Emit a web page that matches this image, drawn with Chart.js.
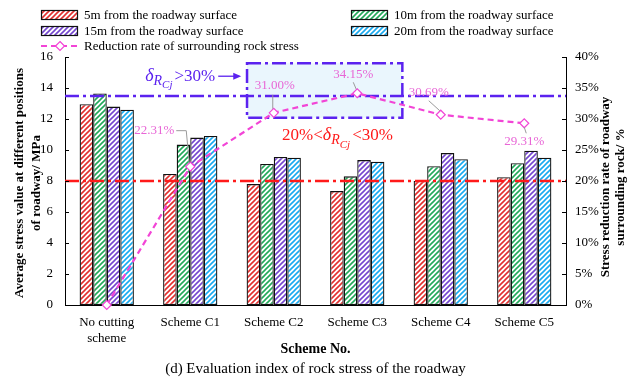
<!DOCTYPE html>
<html>
<head>
<meta charset="utf-8">
<script src="https://cdn.jsdelivr.net/npm/chart.js@4.4.1/dist/chart.umd.min.js"></script>
<style>
  html, body { margin: 0; padding: 0; background: #fff; }
  #wrap { width: 636px; height: 377px; }
</style>
</head>
<body>
<div id="wrap"><canvas id="chart"></canvas></div>
<script>
// categories and values
const schemes = [['No cutting', 'scheme'], 'Scheme C1', 'Scheme C2', 'Scheme C3', 'Scheme C4', 'Scheme C5'];
const stress5m = [12.95, 8.45, 7.8, 7.35, 8.0, 8.25];
const stress10m = [13.65, 10.35, 9.1, 8.3, 8.95, 9.15];
const stress15m = [12.8, 10.8, 9.55, 9.35, 9.8, 9.95];
const stress20m = [12.6, 10.9, 9.5, 9.25, 9.4, 9.5];
const reductionRate = [0, 22.31, 31.00, 34.15, 30.69, 29.31];
const rateLabels = ['', '22.31%', '31.00%', '34.15%', '30.69%', '29.31%'];

const seriesNames = [
  '5m from the roadway surface',
  '10m from the roadway surface',
  '15m from the roadway surface',
  '20m from the roadway surface',
  'Reduction rate of surrounding rock stress'
];

// evaluation thresholds (right axis, %)
const upperCriterion = 33.7;
const lowerCriterion = 20;
const zoneX = [1.68, 3.54];   // highlighted zone, in category units
const zoneY = [30.2, 39.0];   // highlighted zone, in %

const FONT = "'Liberation Serif', 'Times New Roman', serif";
const colors = ['#e2302f', '#22a95a', '#7446cf', '#18aaf0'];
const lineColor = '#f245d6';
const blue = '#5b22ef';

// hatched fill like the original figure
function hatch(color) {
  const s = 5;
  const tile = document.createElement('canvas');
  tile.width = s; tile.height = s;
  const g = tile.getContext('2d');
  g.fillStyle = '#fff';
  g.fillRect(0, 0, s, s);
  g.strokeStyle = color;
  g.lineWidth = 1.6;
  g.beginPath();
  g.moveTo(0, s); g.lineTo(s, 0);
  g.moveTo(-1, 1); g.lineTo(1, -1);
  g.moveTo(s - 1, s + 1); g.lineTo(s + 1, s - 1);
  g.stroke();
  return document.createElement('canvas').getContext('2d').createPattern(tile, 'repeat');
}
const patterns = colors.map(hatch);

// label offsets for the rate values: text centre and leader line end, relative to the point
const labelOffsets = [null,
  { tx: -36, ty: -36, lx: -4, ly: -36, lx2: 10 },
  { tx: 1, ty: -27, lx: -1, ly: -18 },
  { tx: -4, ty: -19, lx: -4, ly: -11 },
  { tx: -12, ty: -22, lx: -12, ly: -14 },
  { tx: 0, ty: 18, lx: 2, ly: 10 }
];

function dashDot(ctx) { ctx.setLineDash([14, 4, 3, 4]); }

// draws the text with an italic δ_RCj inside it
function deltaText(ctx, x, y, before, after, color) {
  ctx.save();
  ctx.fillStyle = color;
  ctx.textBaseline = 'middle';
  ctx.textAlign = 'left';
  ctx.font = '17px ' + FONT;
  ctx.fillText(before, x, y);
  x += ctx.measureText(before).width;
  ctx.font = 'italic 18px ' + FONT;
  ctx.fillText('δ', x, y);
  x += ctx.measureText('δ').width;
  ctx.font = 'italic 14px ' + FONT;
  ctx.fillText('R', x, y + 5);
  x += ctx.measureText('R').width;
  ctx.font = 'italic 11px ' + FONT;
  ctx.fillText('Cj', x, y + 9);
  x += ctx.measureText('Cj').width + 2;
  ctx.font = '17px ' + FONT;
  ctx.fillText(after, x, y);
  x += ctx.measureText(after).width;
  ctx.restore();
  return x;
}

const figurePlugin = {
  id: 'figureExtras',
  beforeDatasetsDraw(chart) {
    const { ctx, scales: { x, y1 } } = chart;
    const x0 = x.getPixelForValue(zoneX[0]), x1 = x.getPixelForValue(zoneX[1]);
    const yt = y1.getPixelForValue(zoneY[1]), yb = y1.getPixelForValue(zoneY[0]);
    ctx.save();
    ctx.fillStyle = '#eaf6fd';
    ctx.fillRect(x0, yt, x1 - x0, yb - yt);
    ctx.restore();
  },
  afterDatasetDraw(chart, args) {
    if (args.index !== 0) return;
    const { ctx, chartArea: a, scales: { x, y1 } } = chart;
    ctx.save();
    ctx.lineWidth = 2.5;
    dashDot(ctx);
    // zone border
    const x0 = x.getPixelForValue(zoneX[0]), x1 = x.getPixelForValue(zoneX[1]);
    const yt = y1.getPixelForValue(zoneY[1]), yb = y1.getPixelForValue(zoneY[0]);
    ctx.strokeStyle = blue;
    ctx.strokeRect(x0, yt, x1 - x0, yb - yt);
    // criterion lines
    let yy = y1.getPixelForValue(upperCriterion);
    ctx.beginPath(); ctx.moveTo(a.left, yy); ctx.lineTo(a.right, yy); ctx.stroke();
    ctx.strokeStyle = '#ff1a1a';
    yy = y1.getPixelForValue(lowerCriterion);
    ctx.beginPath(); ctx.moveTo(a.left, yy); ctx.lineTo(a.right, yy); ctx.stroke();
    ctx.restore();
  },
  afterDraw(chart) {
    const { ctx, chartArea: a, scales: { x, y, y1 } } = chart;
    ctx.save();

    // inward ticks on both value axes
    ctx.strokeStyle = '#000';
    ctx.lineWidth = 1;
    y.ticks.forEach(t => {
      const p = Math.round(y.getPixelForValue(t.value)) + 0.5;
      ctx.beginPath(); ctx.moveTo(a.left, p); ctx.lineTo(a.left + 4, p); ctx.stroke();
    });
    y1.ticks.forEach(t => {
      const p = Math.round(y1.getPixelForValue(t.value)) + 0.5;
      ctx.beginPath(); ctx.moveTo(a.right, p); ctx.lineTo(a.right - 4, p); ctx.stroke();
    });

    // rate labels with leader lines
    ctx.font = '13px ' + FONT;
    ctx.textAlign = 'center';
    ctx.textBaseline = 'middle';
    reductionRate.forEach((v, i) => {
      const o = labelOffsets[i];
      if (!o) return;
      const px = x.getPixelForValue(i), py = y1.getPixelForValue(v);
      ctx.strokeStyle = '#9a9a9a';
      ctx.lineWidth = 1;
      ctx.beginPath();
      ctx.moveTo(px + (o.ly > 0 ? 0 : -1), py + (o.ly > 0 ? 4 : -4));
      ctx.lineTo(px + o.lx, py + o.ly);
      if (o.lx2) ctx.lineTo(px + o.lx - o.lx2, py + o.ly);
      ctx.stroke();
      ctx.fillStyle = '#e866d6';
      ctx.fillText(rateLabels[i], px + o.tx, py + o.ty);
    });

    // criterion texts
    const bx = x.getPixelForValue(0.46), by = y1.getPixelForValue(36.9);
    const end = deltaText(ctx, bx, by, '', '>30%', blue);
    ctx.strokeStyle = blue;
    ctx.fillStyle = blue;
    ctx.lineWidth = 1.3;
    ctx.setLineDash([]);
    ctx.beginPath(); ctx.moveTo(end + 3, by); ctx.lineTo(end + 24, by); ctx.stroke();
    ctx.beginPath(); ctx.moveTo(end + 26, by); ctx.lineTo(end + 18, by - 3.5); ctx.lineTo(end + 18, by + 3.5); ctx.closePath(); ctx.fill();
    deltaText(ctx, x.getPixelForValue(2.1), y1.getPixelForValue(27.3), '20%<', '<30%', '#ff1a1a');

    // axis titles
    ctx.fillStyle = '#000';
    ctx.font = 'bold 13px ' + FONT;
    ctx.textAlign = 'center';
    const midY = (a.top + a.bottom) / 2;
    [['Average stress value at different positions', 20], ['of roadway/ MPa', 37]].forEach(([t, cx]) => {
      ctx.save(); ctx.translate(cx, midY + 2); ctx.rotate(-Math.PI / 2); ctx.fillText(t, 0, 0); ctx.restore();
    });
    [['Stress reduction rate of roadway', a.right + 40], ['surrounding rock/ %', a.right + 55]].forEach(([t, cx]) => {
      ctx.save(); ctx.translate(cx, midY + 6); ctx.rotate(-Math.PI / 2); ctx.fillText(t, 0, 0); ctx.restore();
    });
    const cx = (a.left + a.right) / 2;
    ctx.font = 'bold 14px ' + FONT;
    ctx.fillText('Scheme No.', cx, a.bottom + 44);
    ctx.font = '15px ' + FONT;
    ctx.fillText('(d) Evaluation index of rock stress of the roadway', cx, a.bottom + 64);

    // legend
    ctx.textAlign = 'left';
    ctx.font = '13px ' + FONT;
    const spots = [[41, 15], [351, 15], [41, 31], [351, 31]];
    spots.forEach(([lx, ly], i) => {
      ctx.fillStyle = patterns[i];
      ctx.fillRect(lx, ly - 4, 36, 9);
      ctx.strokeStyle = '#111';
      ctx.lineWidth = 1.2;
      ctx.strokeRect(lx + 0.5, ly - 4.5, 36, 9);
      ctx.fillStyle = '#000';
      ctx.fillText(seriesNames[i], lx + 43, ly + 1);
    });
    ctx.strokeStyle = lineColor;
    ctx.lineWidth = 2.2;
    ctx.setLineDash([6, 4]);
    ctx.beginPath(); ctx.moveTo(41, 46); ctx.lineTo(78, 46); ctx.stroke();
    ctx.setLineDash([]);
    ctx.fillStyle = '#fff';
    ctx.lineWidth = 1.2;
    ctx.beginPath(); ctx.moveTo(60, 41.5); ctx.lineTo(64.5, 46); ctx.lineTo(60, 50.5); ctx.lineTo(55.5, 46); ctx.closePath(); ctx.fill(); ctx.stroke();
    ctx.fillStyle = '#000';
    ctx.fillText(seriesNames[4], 84, 47);

    ctx.restore();
  }
};

const barSet = (data, i) => ({
  type: 'bar',
  label: seriesNames[i],
  data: data,
  backgroundColor: patterns[i],
  borderColor: '#111',
  borderWidth: 1.3,
  borderSkipped: false,
  yAxisID: 'y',
  order: 1
});

const ctx = document.getElementById('chart').getContext('2d');
new Chart(ctx, {
  data: {
    labels: schemes,
    datasets: [
      barSet(stress5m, 0),
      barSet(stress10m, 1),
      barSet(stress15m, 2),
      barSet(stress20m, 3),
      {
        type: 'line',
        label: seriesNames[4],
        data: reductionRate,
        yAxisID: 'y1',
        borderColor: lineColor,
        borderWidth: 2.2,
        borderDash: [6, 4],
        pointStyle: 'rectRot',
        pointRadius: 4.5,
        pointBackgroundColor: '#fff',
        pointBorderColor: lineColor,
        pointBorderWidth: 1.2,
        tension: 0,
        clip: false,
        order: 0
      }
    ]
  },
  options: {
    responsive: true,
    maintainAspectRatio: false,
    animation: false,
    layout: { padding: { top: 57, left: 0, right: 0, bottom: 0 } },
    datasets: { bar: { categoryPercentage: 0.65, barPercentage: 1 } },
    plugins: {
      legend: { display: false },
      tooltip: { enabled: false }
    },
    scales: {
      x: {
        grid: { display: false },
        border: { display: true, color: '#000', width: 1 },
        ticks: { color: '#000', font: { family: FONT, size: 13 }, padding: 2, maxRotation: 0 },
        afterFit: s => { s.height = 72; }
      },
      y: {
        position: 'left',
        min: 0, max: 16,
        grid: { display: false },
        border: { display: true, color: '#000', width: 1 },
        ticks: { stepSize: 2, color: '#000', font: { family: FONT, size: 13 }, padding: 4 },
        afterFit: s => { s.width = 65; }
      },
      y1: {
        position: 'right',
        min: 0, max: 40,
        grid: { display: false },
        border: { display: true, color: '#000', width: 1 },
        ticks: { stepSize: 5, color: '#000', font: { family: FONT, size: 13 }, padding: 1, callback: v => v + '%' },
        afterFit: s => { s.width = 70; }
      }
    }
  },
  plugins: [figurePlugin]
});
</script>
</body>
</html>
